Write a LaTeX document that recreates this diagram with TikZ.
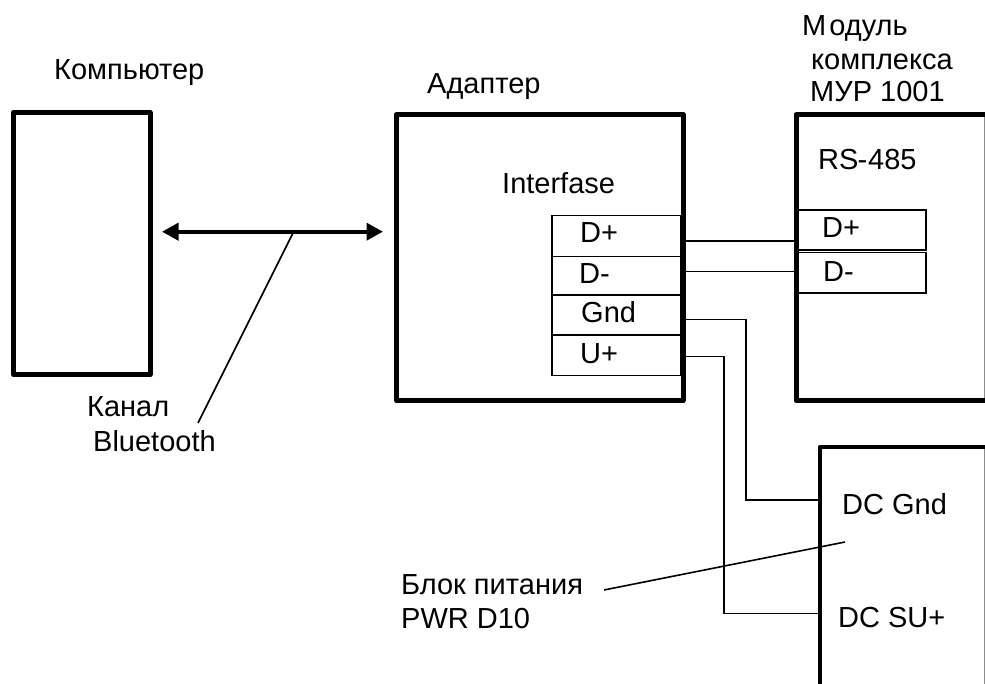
\documentclass[tikz,border=0pt]{standalone}
\usepackage{fontspec}
\setmainfont{Liberation Sans}
\usetikzlibrary{arrows.meta}
\tikzset{
  x=1pt,y=-1pt,
  heavy/.style={draw=black,line width=5pt,line join=round},
  thin box/.style={draw=black,line width=1.6pt},
  wire/.style={draw=black,line width=1.6pt},
  edge/.style={draw=black!45,line width=1.2pt},
  lab/.style={inner sep=0pt,anchor=base west,font=\fontsize{29}{29}\selectfont},
  twohead/.style={line width=3.8pt,{Triangle[length=16.5pt,width=17pt]}-{Triangle[length=16.5pt,width=17pt]}}
}
\begin{document}
\begin{tikzpicture}
\useasboundingbox (0,0) rectangle (985,684);
% faint right edges of the cut-off blocks
\draw[edge] (984.4,114) -- (984.4,400);
\draw[edge] (984.4,447) -- (984.4,684);
% blocks
\draw[heavy] (13.5,112.5) rectangle (150,374.5);
\draw[heavy] (396.5,114.5) rectangle (683,400.5);
\draw[heavy] (985,114.3) -- (796,114.3) -- (796,400.5) -- (985,400.5);
\draw[heavy,line width=4.7pt] (985,447) -- (820,447) -- (820,684);
% port rows
\foreach \a/\b in {215.7/256.5,256.5/295.3,295.3/335.3,335.3/375.7}{
  \draw[thin box] (552,\a) rectangle (681,\b);
}
\draw[thin box] (798,210) rectangle (925.7,250);
\draw[thin box] (798,252.7) rectangle (925.7,293.3);
% named anchors
\coordinate (ad) at (683,241.3);
\coordinate (md) at (796,241.3);
\coordinate (ae) at (683,271.7);
\coordinate (me) at (796,271.7);
\coordinate (ag) at (683,319.5);
\coordinate (bg) at (820,500);
\coordinate (au) at (683,356.7);
\coordinate (bu) at (820,613.5);
\coordinate (c1) at (162,231.7);
\coordinate (c2) at (383,231.7);
\coordinate (t1) at (293,233);
\coordinate (t2) at (198,423);
\coordinate (p1) at (604,590);
\coordinate (p2) at (845,542);
\draw[wire] (ad) -- (md);
\draw[wire] (ae) -- (me);
\draw[wire] (ag) -| (746,500) -- (bg);
\draw[wire] (au) -| (724,613.5) -- (bu);
\draw[twohead] (c1) -- (c2);
\draw[wire] (t1) -- (t2);
\draw[wire] (p1) -- (p2);
% labels
\node[lab] (l1) at (54,80) {Компьютер};
\node[lab] (l2) at (427,94) {Адаптер};
\node[lab] (l3) at (802,36) {М\kern3pt одуль};
\node[lab] (l4) at (811,70) {комплекса};
\node[lab] (l5) at (810,102) {МУР 1001};
\node[lab] (l6) at (818,170) {RS\kern-1pt-\kern1pt 485};
\node[lab] (l7) at (502,194) {Interfase};
\node[lab] (l8) at (580,243) {D+};
\node[lab] (l9) at (579,284) {D-};
\node[lab] (l10) at (581,323) {Gnd};
\node[lab] (l11) at (580,363) {U+};
\node[lab] (l12) at (822,238) {D+};
\node[lab] (l13) at (823,282) {D-};
\node[lab] (l14) at (87,417) {Канал};
\node[lab] (l15) at (93,451) {Bluetooth};
\node[lab] (l16) at (842,514) {DC Gnd};
\node[lab] (l17) at (838,627) {DC SU+};
\node[lab] (l18) at (401,594) {Блок питания};
\node[lab] (l19) at (401,628) {PWR D10};
\end{tikzpicture}
\end{document}
